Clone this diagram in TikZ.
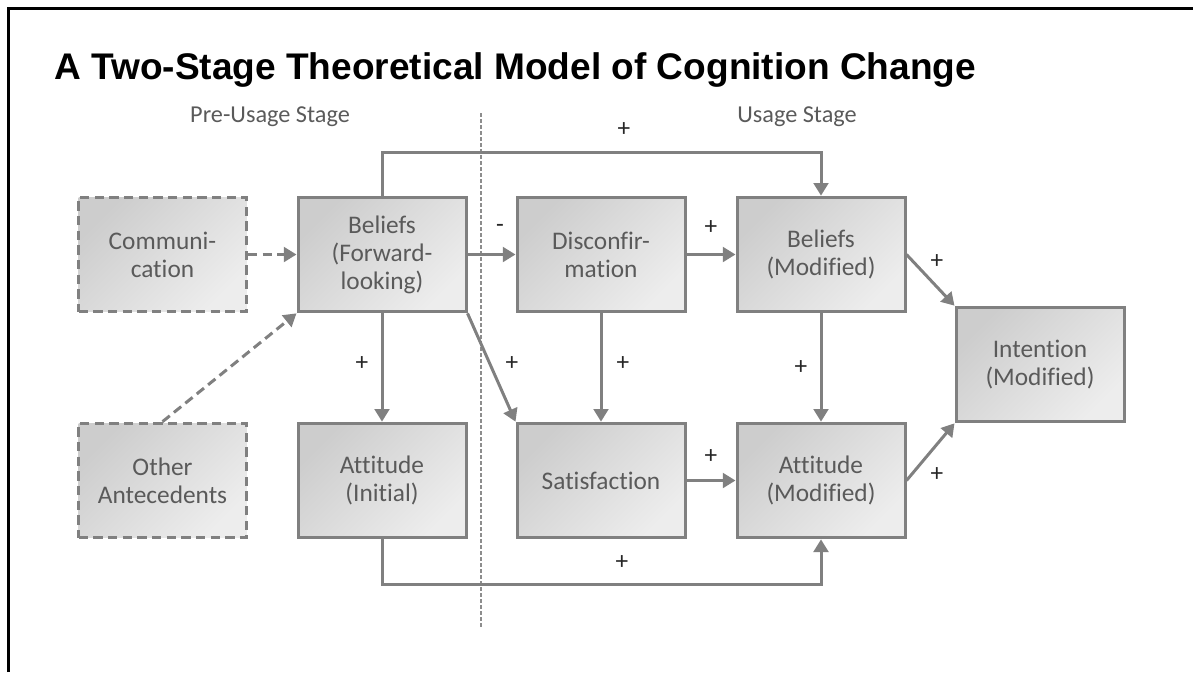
\documentclass[tikz,border=0pt]{standalone}
\usepackage{fontspec}
\setmainfont{Carlito}[Ligatures=NoCommon]
\newfontfamily\titlefont{Liberation Sans}
\usetikzlibrary{arrows.meta}
\definecolor{edge}{HTML}{808080}
\definecolor{boxtext}{HTML}{5A5A5A}
\definecolor{fillA}{HTML}{CDCDCD}
\definecolor{fillB}{HTML}{EDEDED}
\tikzset{
  box/.style={draw=edge, line width=2.25pt, minimum width=126pt, minimum height=86pt,
    shading=axis, top color=fillA, bottom color=fillB, shading angle=45,
    align=center, text=boxtext, font=\fontsize{19}{21}\selectfont, inner sep=0pt},
  dbox/.style={box, dash pattern=on 7pt off 4pt},
  arr/.style={draw=edge, line width=2.25pt, -{Triangle[length=9.5pt,width=11pt]}},
  darr/.style={arr, dash pattern=on 7pt off 4pt},
  sign/.style={font=\fontsize{19}{19}\selectfont, text=black!85, inner sep=0pt},
  stage/.style={font=\fontsize{18.2}{20}\selectfont, text=boxtext, inner sep=0pt}
}
\begin{document}
\begin{tikzpicture}[x=0.75pt, y=-0.75pt]
\useasboundingbox (0,0) rectangle (1193,672);
% page frame
\draw[black, line width=2.25pt] (8,672) -- (8,8) -- (1193,8);
% title and stage headings
\node[anchor=base west, inner sep=0pt, font=\titlefont\bfseries\fontsize{27.8}{30}\selectfont] (title) at (54,79) {A Two-Stage Theoretical Model of Cognition Change};
\node[stage] (pre) at (270,117) {Pre-Usage Stage};
\node[stage] (use) at (797,117) {Usage Stage};
% stage divider
\coordinate (divtop) at (481,113);
\coordinate (divbot) at (481,627);
\draw[edge!90, line width=0.8pt, dash pattern=on 3pt off 1.5pt] (divtop) -- (divbot);
% boxes
\node[dbox] (comm) at (162.5,254.5) {Communi-\\cation};
\node[dbox] (other) at (162.5,480.5) {Other\\Antecedents};
\node[box] (belfl) at (382,254.5) {Beliefs\\(Forward-\\looking)};
\node[box] (attini) at (382,480.5) {Attitude\\(Initial)};
\node[box] (disc) at (601,254.5) {Disconfir-\\mation};
\node[box] (sat) at (601,480.5) {Satisfaction};
\node[box] (belmod) at (821,254.5) {Beliefs\\(Modified)};
\node[box] (attmod) at (821,480.5) {Attitude\\(Modified)};
\node[box] (intent) at (1040,364.5) {Intention\\(Modified)};
% connectors
\draw[darr] (comm) -- (belfl);
\draw[darr] (other.north) -- (belfl.south west);
\draw[arr] (belfl) -- (attini);
\draw[arr] (belfl) -- (disc);
\draw[arr] (belfl.south east) -- (sat.north west);
\draw[arr] (disc) -- (sat);
\draw[arr] (disc) -- (belmod);
\draw[arr] (belmod) -- (attmod);
\draw[arr] (sat) -- (attmod);
\draw[arr] (belmod.east) -- (intent.north west);
\draw[arr] (attmod.east) -- (intent.south west);
\coordinate (topbend) at (600,152);
\draw[arr] (belfl.north) |- (topbend) -| (belmod.north);
\coordinate (botbend) at (600,584);
\draw[arr] (attini.south) |- (botbend) -| (attmod.south);
% signs
\node[sign] (s1) at (624,130) {+};
\node[sign] (s2) at (362,364) {+};
\node[sign] (s3) at (500,228) {-};
\node[sign] (s4) at (512,364) {+};
\node[sign] (s5) at (623,364) {+};
\node[sign] (s6) at (711,228) {+};
\node[sign] (s7) at (801,368) {+};
\node[sign] (s8) at (711,457) {+};
\node[sign] (s9) at (937,262) {+};
\node[sign] (s10) at (937,475) {+};
\node[sign] (s11) at (622,563) {+};
\end{tikzpicture}
\end{document}
